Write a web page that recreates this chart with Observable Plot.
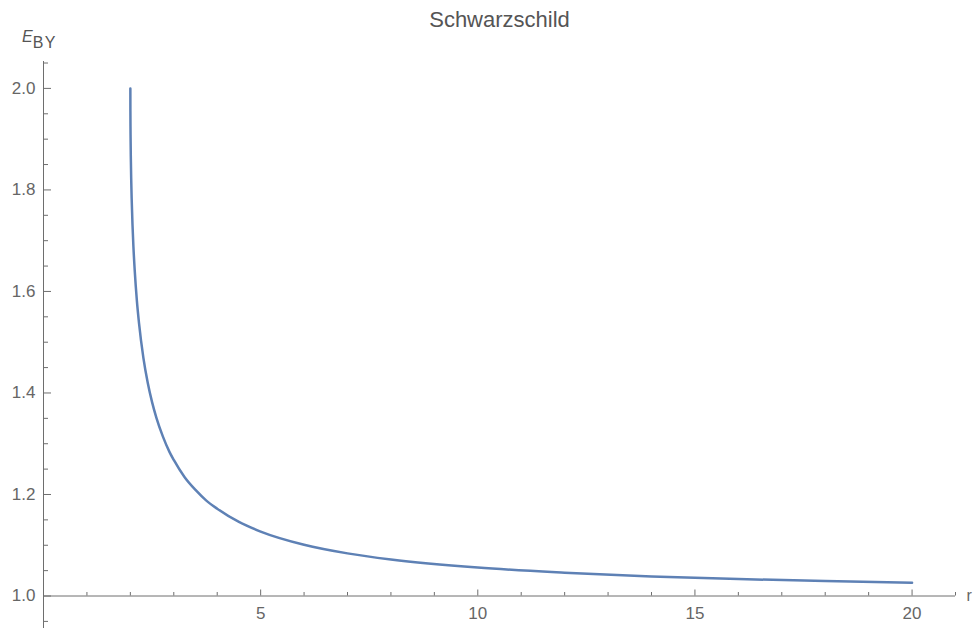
<!DOCTYPE html>
<html><head><meta charset="utf-8">
<script src="https://cdn.jsdelivr.net/npm/d3@7"></script>
<script src="https://cdn.jsdelivr.net/npm/@observablehq/plot@0.6"></script>
<style>body{margin:0;background:#fff;} svg{display:block}</style>
</head><body><div id="chart"></div>
<script>
// Curve: radius r and Brown-York energy E_BY
const rValues = [2, 2.001, 2.003, 2.005, 2.01, 2.02, 2.03, 2.05, 2.07, 2.1, 2.15, 2.2, 2.3, 2.4, 2.5, 2.6, 2.75, 2.9, 3, 3.25, 3.5, 3.75, 4, 4.5, 5, 6, 7, 8, 10, 12, 14, 16, 18, 20];
const eValues = [2.000, 1.956, 1.925, 1.905, 1.868, 1.819, 1.783, 1.730, 1.689, 1.642, 1.582, 1.537, 1.469, 1.420, 1.382, 1.351, 1.314, 1.284, 1.268, 1.234, 1.209, 1.188, 1.172, 1.146, 1.127, 1.101, 1.084, 1.072, 1.056, 1.046, 1.0385, 1.0334, 1.0294, 1.0263];

const xMajorTicks = [5, 10, 15, 20];
const xMinorTicks = [1, 2, 3, 4, 6, 7, 8, 9, 11, 12, 13, 14, 16, 17, 18, 19, 21];
const yMajorTicks = [1.0, 1.2, 1.4, 1.6, 1.8, 2.0];
const yMinorTicks = [0.95, 1.05, 1.1, 1.15, 1.25, 1.3, 1.35, 1.45, 1.5, 1.55, 1.65, 1.7, 1.75, 1.85, 1.9, 1.95, 2.05];

const titleText = "Schwarzschild";
const xLabel = "r";

const data = rValues.map((r, i) => ({r, e: eValues[i]}));

const axisColor = "#6e6e6e";
const labelColor = "#666666";
const fmt = d3.format(".1f");

const chart = Plot.plot({
  width: 974, height: 628,
  marginLeft: 43, marginRight: 19, marginTop: 61, marginBottom: 0,
  style: {fontFamily: "'Liberation Sans', Arial, sans-serif", background: "#fff", overflow: "visible"},
  x: {domain: [0, 21]},
  y: {domain: [0.936, 2.053]},
  marks: [
    Plot.ruleX([0], {stroke: axisColor}),
    Plot.ruleY([1], {stroke: axisColor}),
    Plot.axisX(xMinorTicks, {y: 1, tickSize: -3.5, fill: "none", stroke: axisColor, label: null}),
    Plot.axisX(xMajorTicks, {y: 1, tickSize: -6, fill: "none", stroke: axisColor, label: null}),
    Plot.axisX(xMajorTicks, {y: 1, tickSize: 0, tickPadding: 11, fill: labelColor, fontSize: 17, label: null}),
    Plot.axisY(yMinorTicks, {tickSize: -5, fill: "none", stroke: axisColor, label: null}),
    Plot.axisY(yMajorTicks, {tickSize: -8, fill: "none", stroke: axisColor, label: null}),
    Plot.axisY(yMajorTicks, {tickSize: 0, tickPadding: 8, fill: labelColor, fontSize: 17, tickFormat: fmt, label: null}),
    Plot.line(data, {x: "r", y: "e", stroke: "#5e81b5", strokeWidth: 2.5, curve: "monotone-x"}),
    Plot.text([titleText], {text: d => d, frameAnchor: "top", dy: -50, fontSize: 22, fill: "#555"}),
    Plot.text([xLabel], {text: d => d, x: 21, y: 1, dx: 11, textAnchor: "start", fontSize: 16, fill: labelColor})
  ]
});

const svg = d3.select(chart);
const yl = svg.append("text")
  .attr("x", 22).attr("y", 42)
  .attr("text-anchor", "start")
  .attr("fill", "#555")
  .attr("font-family", "'Liberation Sans', Arial, sans-serif")
  .attr("font-size", 16);
yl.append("tspan").attr("font-style", "italic").text("E");
yl.append("tspan").attr("dy", 6).attr("font-size", 16).attr("letter-spacing", 1.5).text("BY");

document.getElementById("chart").appendChild(chart);
</script>
</body></html>
